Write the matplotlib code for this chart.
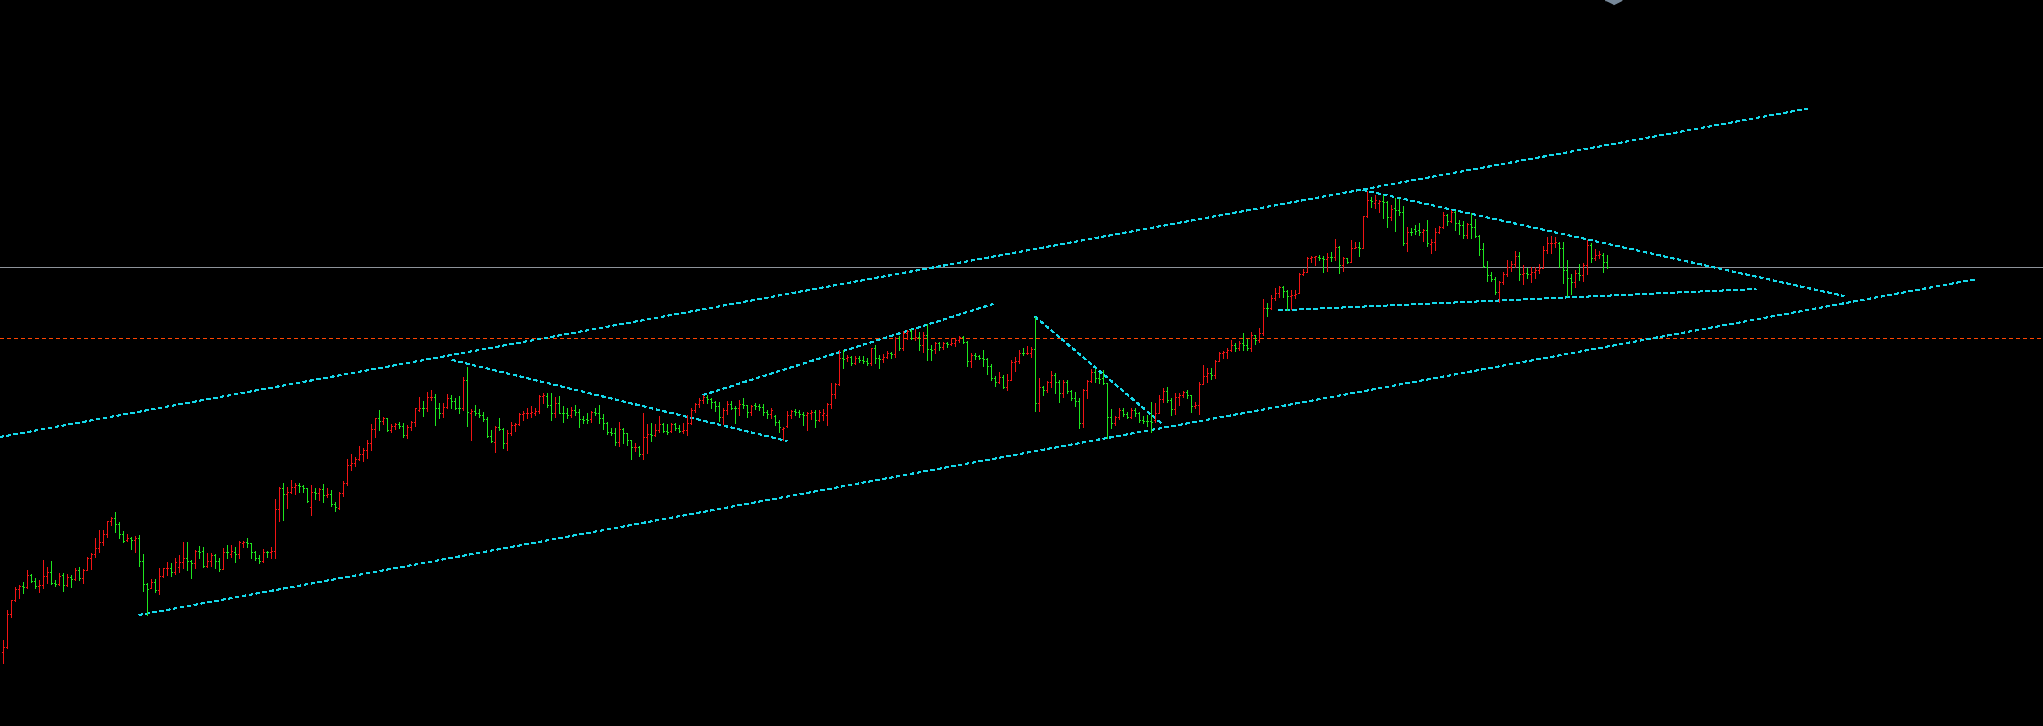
import matplotlib
matplotlib.use("Agg")
import matplotlib.pyplot as plt
import numpy as np

BG = "#000000"; UP = "#F01414"; DOWN = "#1EE61E"; AQUA = "#14D8EA"
BID = "#8E939A"; ORANGE = "#FF4500"; SHIFT = "#778899"

# OHLC bars, price in points
opens = [245,260,358,399,432,443,438,475,458,443, 445,472,483,452,447,475,445,470,462,490,
         467,490,525,537,555,575,597,637,645,627, 597,580,585,580,587,517,449,437,453,431,
         472,495,497,483,500,515,525,518,510,547, 547,503,517,535,517,493,545,538,545,537,
         570,573,570,545,525,517,545,543,547,672, 737,717,723,738,745,742,737,678,725,720,
         732,715,718,687,677,722,752,805,810,823, 837,850,870,913,945,938,945,910,923,927,
         923,895,920,933,970,977,975,1008,1010,975, 960,980,1005,997,977,975,1060,962,967,960,
         955,942,893,875,920,913,870,900,925,927, 957,960,960,962,967,1012,1012,985,960,990,
         962,962,955,970,965,942,942,942,965,960, 945,930,905,900,875,912,900,880,858,860,
         838,890,898,895,910,928,908,908,928,915, 906,910,930,970,987,1000,1010,1003,993,983,
         950,970,987,977,975,987,985,965,985,982, 980,965,957,953,935,912,923,955,967,965,
         957,955,960,965,940,955,955,987,1017,1047, 1125,1125,1130,1110,1125,1120,1117,1110,1155,1125,
         1122,1130,1140,1137,1187,1155,1200,1207,1185,1190, 1165,1195,1152,1152,1170,1158,1170,1168,1170,1180,
         1188,1175,1118,1135,1132,1125,1122,1102,1065,1055, 1070,1038,1060,1115,1118,1142,1140,1142,1152,990,
         1040,1030,1055,1075,1055,1022,1055,1028,1005,998, 930,1030,1058,1085,1065,1065,1050,950,932,950,
         970,958,948,970,962,940,938,938,940,960, 1002,1027,1000,973,1010,1015,1025,1015,983,985,
         1047,1073,1080,1075,1117,1140,1145,1150,1165,1155, 1170,1165,1155,1195,1180,1200,1277,1275,1305,1320,
         1340,1327,1313,1315,1320,1377,1383,1427,1430,1430, 1427,1423,1430,1430,1460,1405,1425,1415,1457,1460,
         1457,1553,1600,1590,1590,1597,1595,1550,1575,1570, 1563,1470,1505,1512,1510,1505,1510,1467,1473,1505,
         1520,1555,1537,1565,1530,1525,1495,1527,1520,1493, 1453,1400,1375,1363,1323,1353,1377,1400,1407,1433,
         1377,1380,1377,1383,1390,1397,1450,1470,1470,1470, 1455,1390,1365,1355,1380,1375,1405,1465,1427,1435,
         1435,1415]
highs = [280,370,400,438,445,453,490,478,465,460, 520,500,517,460,480,482,477,475,495,500,
         493,530,540,585,610,610,637,650,663,633, 607,597,590,592,595,537,450,463,463,497,
         497,515,510,527,535,573,573,520,550,562, 560,540,540,537,527,555,565,565,558,577,
         577,587,570,547,535,553,547,558,703,740, 750,740,760,750,750,745,737,745,735,737,
         748,737,730,695,723,757,823,837,830,863, 855,880,927,947,970,950,947,927,930,935,
         930,925,937,977,1010,997,1023,1030,1017,990, 990,1017,1015,1007,1013,1070,1100,972,985,972,
         965,948,910,922,945,915,910,935,930,960, 968,975,982,977,1015,1020,1020,1022,1008,1012,
         982,975,980,985,972,952,962,968,975,985, 958,935,915,915,935,915,900,880,872,862,
         962,928,932,928,952,930,928,932,932,925, 930,955,975,990,1005,1015,1015,1005,997,993,
         975,997,997,983,1000,1005,985,985,990,987, 987,970,975,955,940,920,967,970,973,970,
         963,965,970,970,970,973,990,1050,1050,1150, 1150,1135,1133,1133,1133,1133,1127,1157,1165,1135,
         1137,1147,1145,1190,1193,1207,1210,1213,1213,1203, 1205,1228,1165,1175,1175,1175,1175,1185,1185,1192,
         1192,1178,1142,1140,1135,1150,1125,1108,1072,1085, 1075,1078,1120,1130,1150,1155,1162,1160,1250,1065,
         1042,1058,1088,1080,1060,1060,1060,1030,1025,1005, 1032,1060,1092,1092,1080,1090,1050,972,952,975,
         975,965,975,975,965,952,955,995,990,1015, 1037,1040,1005,1020,1020,1027,1030,1015,995,1055,
         1105,1095,1095,1120,1143,1147,1155,1180,1170,1177, 1200,1183,1203,1195,1215,1303,1290,1315,1335,1343,
         1343,1330,1330,1330,1380,1393,1430,1433,1433,1435, 1433,1440,1443,1483,1463,1430,1427,1480,1473,1473,
         1553,1627,1610,1615,1600,1615,1597,1585,1605,1603, 1583,1520,1517,1525,1530,1513,1540,1483,1517,1523,
         1565,1557,1570,1567,1540,1537,1530,1560,1543,1495, 1470,1417,1383,1370,1357,1383,1420,1417,1447,1443,
         1405,1395,1400,1400,1407,1463,1490,1493,1490,1473, 1473,1420,1377,1390,1407,1410,1480,1470,1453,1447,
         1440,1435]
lows = [210,255,350,397,407,422,437,455,437,425, 435,450,447,442,445,428,443,440,460,460,
        452,490,493,530,545,565,590,625,605,585, 573,577,553,543,503,428,355,437,423,417,
        470,475,473,477,483,497,490,465,497,527, 500,500,503,495,487,493,527,530,515,527,
        560,560,525,520,510,515,530,525,527,638, 640,677,720,717,725,725,695,655,703,700,
        693,710,683,668,673,713,745,790,802,820, 817,827,850,890,910,927,907,905,913,917,
        890,887,910,923,967,953,967,1000,925,947, 950,977,977,973,960,970,922,880,955,948,
        938,890,875,845,910,855,850,895,908,925, 940,945,950,955,962,992,980,940,950,960,
        935,945,948,955,920,930,930,935,955,930, 912,898,895,865,862,870,865,822,848,832,
        822,840,878,892,905,905,898,905,910,905, 902,895,928,965,980,990,990,977,967,937,
        927,957,973,930,955,975,950,955,973,970, 955,945,947,925,905,880,920,947,955,950,
        925,910,943,920,937,940,925,977,1007,1045, 1097,1117,1105,1107,1115,1110,1105,1105,1110,1097,
        1115,1125,1125,1130,1150,1150,1183,1183,1180,1150, 1145,1120,1120,1142,1150,1152,1158,1165,1162,1175,
        1172,1102,1098,1122,1122,1102,1078,1060,1042,1050, 1035,1030,1060,1088,1110,1135,1138,1130,968,968,
        1015,1025,1040,1022,995,1010,1022,1000,982,915, 920,1005,1055,1055,1052,1048,885,915,925,942,
        952,945,945,952,935,930,922,905,935,960, 995,995,955,957,985,1010,1005,965,977,957,
        1047,1055,1063,1067,1117,1127,1127,1147,1147,1150, 1150,1150,1147,1167,1175,1195,1253,1273,1300,1310,
        1310,1270,1273,1305,1320,1375,1383,1415,1405,1420, 1385,1387,1417,1420,1380,1387,1410,1413,1455,1433,
        1455,1550,1580,1575,1565,1547,1520,1540,1507,1555, 1465,1447,1495,1497,1495,1477,1463,1440,1450,1500,
        1517,1525,1533,1510,1497,1485,1485,1485,1490,1435, 1400,1357,1357,1317,1293,1347,1373,1387,1400,1360,
        1347,1367,1355,1367,1380,1395,1440,1440,1460,1400, 1350,1313,1317,1340,1360,1357,1377,1415,1420,1425,
        1385,1395]
closes = [260,358,399,432,443,438,475,458,443,445, 472,483,452,447,473,445,470,462,490,467,
          490,525,537,555,575,597,637,645,627,597, 577,585,580,587,517,448,433,453,431,472,
          495,497,483,513,515,525,518,510,547,545, 503,517,535,517,493,545,543,546,537,573,
          574,570,545,525,517,545,543,547,672,737, 717,723,738,745,742,737,698,725,720,732,
          715,718,687,680,722,752,805,810,823,837, 850,870,913,945,938,945,910,923,927,923,
          895,920,933,975,977,975,1008,1010,975,960, 980,1005,997,977,975,1060,965,967,960,955,
          942,893,878,920,913,870,900,925,927,957, 960,962,964,967,1012,1015,985,960,990,962,
          960,955,970,965,942,940,940,965,960,945, 930,905,900,875,912,900,880,858,860,838,
          890,898,895,910,928,908,905,928,915,908, 910,930,970,987,1000,1010,1003,993,983,950,
          970,987,977,975,987,985,965,983,982,980, 965,957,970,935,920,917,955,967,965,957,
          955,960,965,940,965,960,987,1017,1047,1125, 1122,1130,1110,1125,1120,1117,1110,1155,1125,1122,
          1130,1140,1137,1187,1155,1200,1207,1185,1190,1165, 1195,1152,1150,1170,1158,1170,1167,1172,1180,1188,
          1175,1118,1135,1132,1125,1122,1102,1065,1055,1070, 1038,1060,1115,1118,1142,1140,1142,1152,990,1040,
          1030,1055,1075,1055,1022,1055,1028,1005,998,930, 1030,1058,1085,1065,1062,1050,950,932,950,970,
          958,948,970,962,940,938,936,935,960,1002, 1027,1000,973,1010,1015,1025,1015,983,985,1047,
          1073,1080,1075,1117,1140,1145,1150,1165,1155,1170, 1165,1155,1195,1180,1200,1277,1275,1305,1320,1340,
          1327,1313,1315,1317,1377,1383,1427,1430,1432,1427, 1423,1430,1428,1460,1405,1425,1415,1457,1460,1457,
          1553,1600,1597,1600,1597,1595,1550,1573,1570,1563, 1470,1505,1503,1508,1505,1510,1470,1473,1505,1520,
          1555,1537,1565,1530,1525,1495,1527,1520,1493,1453, 1402,1375,1363,1323,1353,1377,1400,1407,1433,1377,
          1380,1377,1383,1390,1397,1450,1470,1472,1473,1455, 1390,1365,1355,1380,1375,1405,1465,1427,1435,1438,
          1415,1399]

# trend lines: (bar0, price0, bar1, price1)
trend_lines = [(-0.75, 889, 452.0, 1876),    # channel top
               (34.0, 355, 493.5, 1363),     # channel bottom
               (112.25, 1120, 196.0, 877),
               (175.0, 1015, 247.5, 1288),
               (258.0, 1250, 290.0, 926),
               (340.0, 1630, 460.25, 1312),  # triangle top
               (319.0, 1269, 438.25, 1333)]  # triangle bottom
level_line = 1186          # orange dashed level
shift_bar = 402.5          # chart shift marker

PX = 0.72  # 1 px at dpi 100

o = np.array(opens); h = np.array(highs); l = np.array(lows); c = np.array(closes)
x = np.arange(len(c))
col = np.where(c > o, UP, DOWN)

fig = plt.figure(figsize=(20.43, 7.26), dpi=100, facecolor=BG)
ax = fig.add_axes([0, 0, 1, 1], facecolor=BG)
ax.set_xlim(-0.75, 510.0); ax.set_ylim(22, 2200); ax.axis("off")

ax.axhline(level_line, color=ORANGE, lw=PX, ls=(0, (4, 3)), antialiased=False)
ax.axhline(c[-1], color=BID, lw=PX, antialiased=False)

for x0, y0, x1, y1 in trend_lines:
    ax.plot([x0, x1], [y0, y1], color=AQUA, lw=PX, ls=(0, (4, 4)), antialiased=False)

ax.vlines(x, l, h, colors=col, lw=PX, antialiased=False)
ax.hlines(o, x - 0.3, x, colors=col, lw=PX, antialiased=False)
ax.hlines(c, x, x + 0.3, colors=col, lw=PX, antialiased=False)

ax.plot([shift_bar], [2200], marker=[(-1, 0), (1, 0), (0, -0.5)], ms=12, color=SHIFT,
        mec=SHIFT, ls="none", clip_on=False)

fig.savefig("out.png", dpi=100, facecolor=BG)
